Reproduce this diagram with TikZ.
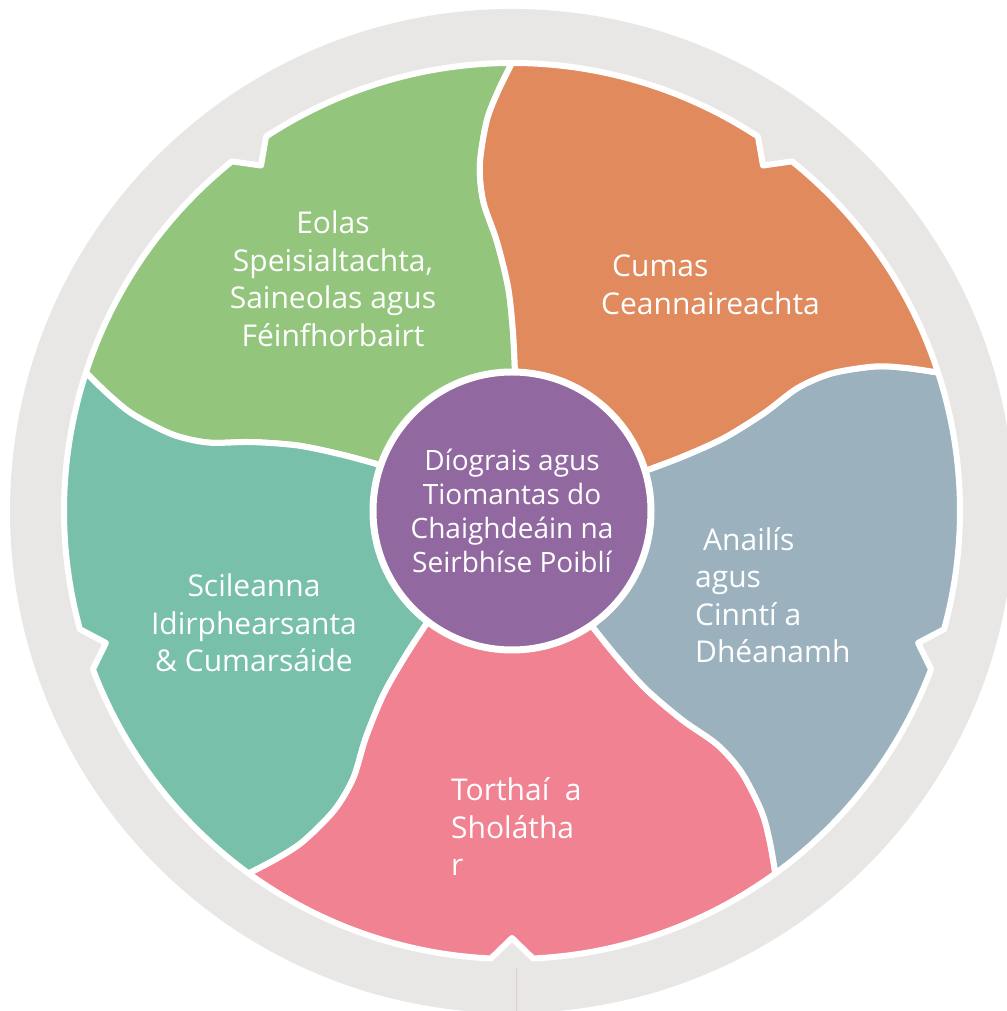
\documentclass[tikz,border=0pt]{standalone}
\usepackage{fontspec}
\setmainfont{Open Sans}
\usepackage{tikz}
\usetikzlibrary{positioning}

\definecolor{ringgrey}{HTML}{E8E7E5}
\definecolor{leafgreen}{HTML}{93C57C}
\definecolor{leaforange}{HTML}{E08A5E}
\definecolor{leafblue}{HTML}{9BB2BE}
\definecolor{leafpink}{HTML}{F08292}
\definecolor{leafteal}{HTML}{78C0AA}
\definecolor{hubpurple}{HTML}{9169A0}
\definecolor{seamline}{HTML}{E6CBCF}

% one petal, between the seams at 90 and 162 degrees
\newcommand\petalpath{(0,0) -- plot[smooth] coordinates {(88.5:120) (88.8:140) (89.7:180) (91:224) (93.2:270) (95.3:311) (95.3:348) (93.7:391) (91.9:420) (90:448)}
  arc[start angle=90, end angle=123.3, radius=448pt] -- (126:427) -- (128.7:448)
  arc[start angle=128.7, end angle=162, radius=448pt]
  -- plot[smooth] coordinates {(162:448) (163.9:420) (165.7:391) (167.3:348) (167.3:311) (165.2:270) (163:224) (161.7:180) (160.8:140) (160.5:120)} -- cycle}

\begin{document}
\begin{tikzpicture}[x=1pt, y=1pt,
  petal/.style={draw=white, line width=6pt, line join=round},
  leaftext/.style={text=white, inner sep=0pt, font=\fontsize{30}{37.5}\selectfont},
  hubtext/.style={text=white, align=center, inner sep=0pt, font=\fontsize{28}{34}\selectfont}]
\useasboundingbox (-512,-500) rectangle (494,511);

% Grey ring
\fill[ringgrey] (0,0) circle[radius=502pt];

% Petals
\foreach \k/\col in {0/leafgreen, 1/leafteal, 2/leafpink, 3/leafblue, 4/leaforange}{
  \begin{scope}[rotate=72*\k]
    \filldraw[petal, fill=\col] \petalpath;
  \end{scope}
}

% Seam below the ring
\coordinate (seamtop) at (4,-457);
\coordinate (seambot) at (4,-500);
\draw[seamline, line width=1pt] (seamtop) -- (seambot);

% Hub
\node[circle, fill=hubpurple, draw=white, line width=7pt, minimum size=278pt] (hub) at (0,0) {};
\node[hubtext] (hublabel) at (hub) {Díograis agus\\Tiomantas do\\Chaighdeáin na\\Seirbhíse Poiblí};

% Petal labels
\node[leaftext, align=center] (eolas) at (-179,232) {Eolas\\Speisialtachta,\\Saineolas agus\\Féinfhorbairt};
\node[leaftext, align=left, anchor=west] (cumas) at (89,226) {\hspace*{11pt}Cumas\\Ceannaireachta};
\node[leaftext, align=left, anchor=west] (anailis) at (183,-84) {\hspace*{8pt}Anailís\\agus\\Cinntí a\\Dhéanamh};
\node[leaftext, align=center] (scileanna) at (-258,-112) {Scileanna\\Idirphearsanta\\\& Cumarsáide};
\node[leaftext, align=left, anchor=west] (torthai) at (-61,-316) {Torthaí~ a\\Sholátha\\r};
\end{tikzpicture}
\end{document}
